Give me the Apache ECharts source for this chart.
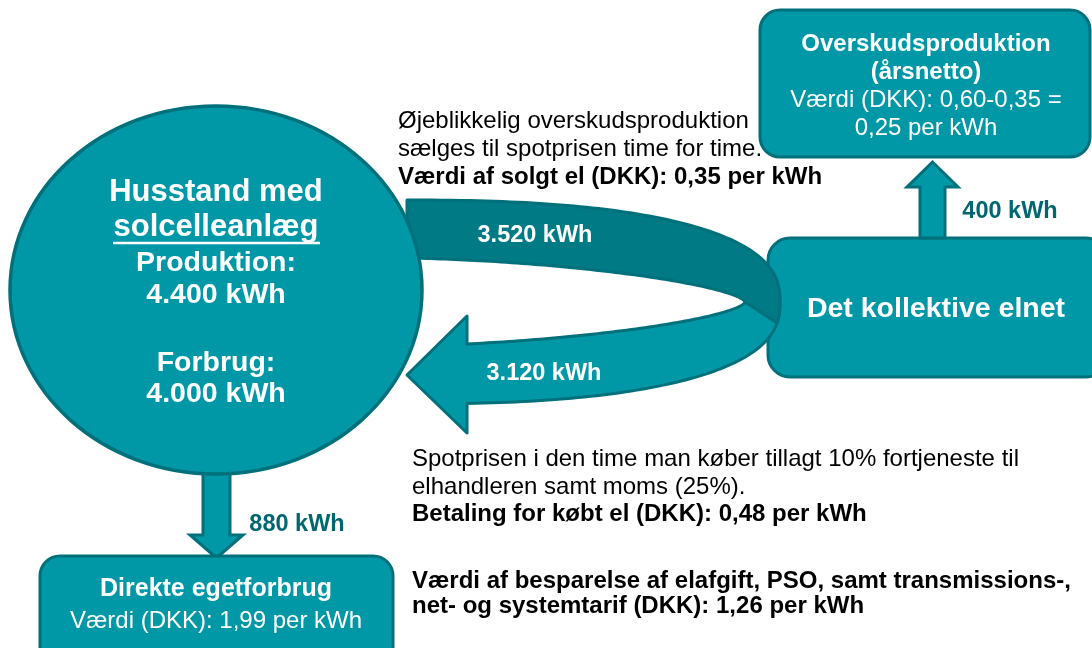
<!DOCTYPE html>
<html><head><meta charset="utf-8">
<script src="https://cdn.jsdelivr.net/npm/echarts@6/dist/echarts.min.js"></script>
<style>html,body{margin:0;padding:0;background:#fff}#c{width:1092px;height:648px}</style>
</head><body><div id="c"></div>
<script>
// ---- data ----
const production = 4400;     // kWh
const consumption = 4000;    // kWh
const flowNames = ['sold', 'bought', 'netSurplus', 'selfUse'];
const flowValues = [3520, 3120, 400, 880]; // kWh
const priceSold = '0,35';
const priceBought = '0,48';
const priceSaving = '1,26';
const priceSelf = '1,99';
const surplusCalc = ['0,60', '0,35', '0,25'];
const householdLines = ['Husstand med', 'solcelleanlæg', 'Produktion:', 'Forbrug:'];
const gridLabel = 'Det kollektive elnet';
const soldText = ['Øjeblikkelig overskudsproduktion', 'sælges til spotprisen time for time.'];
const boughtText = ['Spotprisen i den time man køber tillagt 10% fortjeneste til', 'elhandleren samt moms (25%).'];
const savingText = ['Værdi af besparelse af elafgift, PSO, samt transmissions-,', 'net- og systemtarif (DKK): '];

// ---- helpers ----
const fmt = v => String(v).replace(/\B(?=(\d{3})+(?!\d))/g, '.') + ' kWh';
const F = 'Liberation Sans, Arial, sans-serif';
const LIGHT = '#0098A6', DARK = '#007A85', EDGE = '#00707B', LBL = '#006670';
function sgnpow(v, p) { return Math.sign(v) * Math.pow(Math.abs(v), p); }
function sarc(e, t0, t1, steps) {
  const pts = [];
  for (let i = 0; i <= steps; i++) {
    const t = (t0 + (t1 - t0) * i / steps) * Math.PI / 180;
    pts.push([e.cx + e.a * sgnpow(Math.cos(t), 2 / e.n), e.cy + e.b * sgnpow(Math.sin(t), 2 / e.n)]);
  }
  return pts;
}
function tAtX(e, x, below) {
  const c = Math.pow((x - e.cx) / e.a, e.n / 2);
  const t = Math.acos(Math.min(1, c)) * 180 / Math.PI;
  return below ? t : -t;
}
const OUT = { cx: 400, cy: 302, a: 380, b: 102, n: 2.5 };
const INN = { cx: 400, cy: 302, a: 345, b: 44, n: 1.6 };
const headX = 467, tipX = 407, tipY = 375;
const lightBand = [].concat(
  sarc(OUT, -3, tAtX(OUT, headX, true), 80),
  [[headX, 433], [tipX, tipY], [headX, 316]],
  sarc(INN, tAtX(INN, headX, true), -3, 80)
);
const darkBand = [].concat(
  sarc(OUT, tAtX(OUT, 407, false), 8, 90),
  sarc(INN, 0, tAtX(INN, 407, false), 90)
);
function txt(x, y, text, size, bold, color, align) {
  return { type: 'text', z: 10, style: { x, y, text, fill: color || '#fff',
    font: (bold ? 'bold ' : '') + size + 'px ' + F, textAlign: align || 'center', textVerticalAlign: 'middle' } };
}
const g = [];
// grid box (under the curved arrows)
g.push({ type: 'rect', shape: { x: 768, y: 238, width: 340, height: 139, r: 22 }, style: { fill: LIGHT, stroke: EDGE, lineWidth: 3 } });
// curved arrows
g.push({ type: 'polygon', shape: { points: lightBand }, style: { fill: LIGHT, stroke: EDGE, lineWidth: 3, lineJoin: 'round' } });
g.push({ type: 'polygon', shape: { points: darkBand }, style: { fill: DARK, stroke: EDGE, lineWidth: 3, lineJoin: 'round' } });
// straight arrows
g.push({ type: 'polygon', shape: { points: [[920, 238], [920, 187], [907, 187], [932.5, 162], [958, 187], [945, 187], [945, 238]] }, style: { fill: LIGHT, stroke: EDGE, lineWidth: 3 } });
g.push({ type: 'polygon', shape: { points: [[203, 460], [203, 535], [190, 535], [216.5, 558], [243, 535], [230, 535], [230, 460]] }, style: { fill: LIGHT, stroke: EDGE, lineWidth: 3 } });
// household ellipse
g.push({ type: 'ellipse', shape: { cx: 216, cy: 290, rx: 206, ry: 184 }, style: { fill: LIGHT, stroke: EDGE, lineWidth: 3.5 } });
// other boxes
g.push({ type: 'rect', shape: { x: 760, y: 10, width: 330, height: 147, r: 20 }, style: { fill: LIGHT, stroke: EDGE, lineWidth: 3 } });
g.push({ type: 'rect', shape: { x: 40, y: 556, width: 353, height: 120, r: 20 }, style: { fill: LIGHT, stroke: EDGE, lineWidth: 3 } });

// household text
g.push(txt(216, 192, householdLines[0], 31, true));
g.push(txt(216, 227, householdLines[1], 31, true));
g.push({ type: 'line', z: 10, shape: { x1: 113, y1: 243, x2: 320, y2: 243 }, style: { stroke: '#fff', lineWidth: 2.5 } });
g.push(txt(216, 263, householdLines[2], 28.5, true));
g.push(txt(216, 295, fmt(production), 28.5, true));
g.push(txt(216, 363, householdLines[3], 28.5, true));
g.push(txt(216, 394, fmt(consumption), 28.5, true));
// flow labels
g.push(txt(535, 236, fmt(flowValues[0]), 23.5, true));
g.push(txt(544, 374, fmt(flowValues[1]), 23.5, true));
g.push(txt(1010, 212, fmt(flowValues[2]), 23.5, true, LBL));
g.push(txt(297, 525, fmt(flowValues[3]), 23.5, true, LBL));
// grid box text
g.push(txt(936, 309, gridLabel, 28.5, true));
// surplus box
g.push(txt(926, 44, 'Overskudsproduktion', 24, true));
g.push(txt(926, 72, '(årsnetto)', 24, true));
g.push(txt(926, 100, 'Værdi (DKK): ' + surplusCalc[0] + '-' + surplusCalc[1] + ' =', 24, false));
g.push(txt(926, 128, surplusCalc[2] + ' per kWh', 24, false));
// self-use box
g.push(txt(216, 589, 'Direkte egetforbrug', 25, true));
g.push(txt(216, 621, 'Værdi (DKK): ' + priceSelf + ' per kWh', 24, false));
// sold text
g.push(txt(398, 121, soldText[0], 24, false, '#000', 'left'));
g.push(txt(398, 149, soldText[1], 24, false, '#000', 'left'));
g.push(txt(398, 177, 'Værdi af solgt el (DKK): ' + priceSold + ' per kWh', 24, true, '#000', 'left'));
// bought text
g.push(txt(412, 459, boughtText[0], 24, false, '#000', 'left'));
g.push(txt(412, 487, boughtText[1], 24, false, '#000', 'left'));
g.push(txt(412, 514, 'Betaling for købt el (DKK): ' + priceBought + ' per kWh', 24, true, '#000', 'left'));
g.push(txt(412, 581, savingText[0], 24, true, '#000', 'left'));
g.push(txt(412, 606, savingText[1] + priceSaving + ' per kWh', 24, true, '#000', 'left'));

const chart = echarts.init(document.getElementById('c'));
chart.setOption({ backgroundColor: '#fff', animation: false, graphic: g });
</script></body></html>
